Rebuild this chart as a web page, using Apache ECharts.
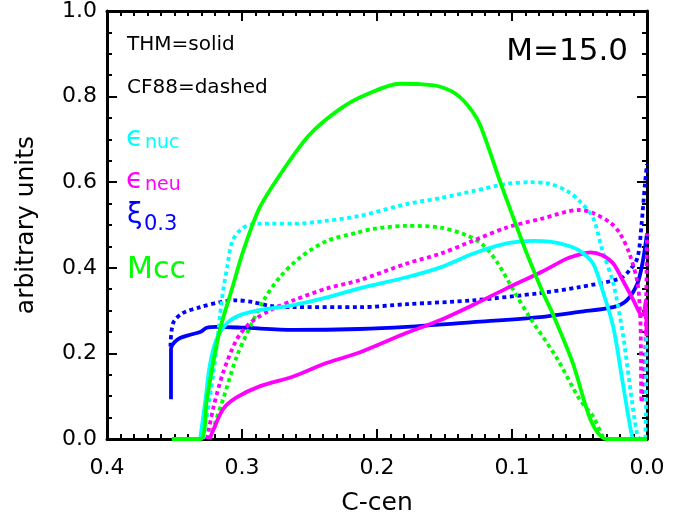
<!DOCTYPE html>
<html>
<head>
<meta charset="utf-8">
<script src="https://cdn.jsdelivr.net/npm/echarts@6/dist/echarts.min.js"></script>
<style>
html,body{margin:0;padding:0;background:#fff;}
#chart{width:694px;height:521px;}
</style>
</head>
<body>
<div id="chart"></div>
<script>
// ---------- data (x = C-cen, y = arbitrary units) ----------
const xTickValues = [0.4, 0.3, 0.2, 0.1, 0.0];
const yTickValues = [0.0, 0.2, 0.4, 0.6, 0.8, 1.0];

// Mcc, THM (solid green)
const mccThmX = [0.352,0.331,0.326,0.321,0.316,0.307,0.299,0.287,0.270,0.250,0.227,0.207,0.183,0.168,0.153,0.139,0.126,0.119,0.109,0.099,0.089,0.077,0.070,0.055,0.041,0.030,0.0];
const mccThmY = [0.0,0.0,0.093,0.185,0.260,0.355,0.440,0.540,0.626,0.711,0.772,0.806,0.830,0.829,0.823,0.800,0.749,0.695,0.603,0.517,0.433,0.341,0.294,0.178,0.039,0.0,0.0];

// Mcc, CF88 (dotted green)
const mccCfX = [0.324,0.314,0.304,0.294,0.284,0.272,0.257,0.237,0.215,0.203,0.178,0.153,0.133,0.121,0.111,0.099,0.087,0.067,0.050,0.040,0.033,0.031];
const mccCfY = [0.0,0.093,0.192,0.262,0.324,0.378,0.424,0.463,0.482,0.491,0.498,0.494,0.475,0.452,0.413,0.348,0.285,0.190,0.093,0.053,0.007,0.0];

// eps_nuc, THM (solid cyan)
const nucThmX = [0.331,0.327,0.324,0.319,0.311,0.301,0.287,0.262,0.237,0.213,0.178,0.153,0.129,0.104,0.084,0.072,0.059,0.050,0.040,0.033,0.025,0.018,0.011,0.009];
const nucThmY = [0.0,0.093,0.169,0.232,0.271,0.290,0.301,0.313,0.331,0.352,0.378,0.401,0.433,0.457,0.463,0.461,0.452,0.440,0.410,0.348,0.262,0.132,0.005,0.0];

// eps_nuc, CF88 (dotted cyan)
const nucCfX = [0.329,0.324,0.319,0.315,0.311,0.307,0.299,0.287,0.262,0.237,0.213,0.178,0.153,0.129,0.104,0.087,0.072,0.059,0.050,0.040,0.033,0.025,0.018,0.013,0.007,0.004,0.0015,0.0005];
const nucCfY = [0.0,0.093,0.209,0.324,0.401,0.463,0.494,0.503,0.503,0.510,0.521,0.549,0.563,0.579,0.596,0.600,0.596,0.579,0.556,0.517,0.440,0.364,0.248,0.132,0.007,0.0,0.0,0.24];

// eps_neu, THM (solid magenta)
const neuThmX = [0.324,0.321,0.314,0.304,0.287,0.262,0.237,0.213,0.178,0.153,0.129,0.104,0.079,0.059,0.050,0.042,0.033,0.025,0.018,0.010,0.005,0.003,0.0008,0.0004];
const neuThmY = [0.0,0.023,0.070,0.097,0.123,0.146,0.178,0.202,0.248,0.278,0.313,0.352,0.389,0.422,0.431,0.436,0.429,0.410,0.371,0.324,0.292,0.290,0.325,0.240];

// eps_neu, CF88 (dotted magenta)
const neuCfX = [0.326,0.321,0.314,0.304,0.294,0.279,0.262,0.237,0.213,0.178,0.153,0.129,0.104,0.079,0.050,0.040,0.027,0.020,0.013,0.007,0.005,0.0045,0.004,0.0015,0.0005,0.0];
const neuCfY = [0.0,0.076,0.155,0.232,0.271,0.301,0.324,0.352,0.371,0.410,0.433,0.463,0.494,0.514,0.535,0.528,0.505,0.480,0.433,0.364,0.285,0.209,0.085,0.19,0.35,0.48];

// xi_0.3, THM (solid blue)
const xiThmX = [0.3526,0.3526,0.348,0.339,0.331,0.326,0.319,0.299,0.262,0.213,0.178,0.129,0.079,0.050,0.025,0.015,0.007,0.003,0.0];
const xiThmY = [0.093,0.209,0.232,0.243,0.250,0.260,0.262,0.260,0.255,0.257,0.262,0.273,0.285,0.297,0.308,0.324,0.364,0.417,0.480];

// xi_0.3, CF88 (dotted blue)
const xiCfX = [0.353,0.351,0.344,0.331,0.316,0.304,0.292,0.279,0.262,0.213,0.178,0.129,0.079,0.050,0.020,0.013,0.007,0.004,0.0015,0.0];
const xiCfY = [0.216,0.271,0.294,0.308,0.320,0.324,0.320,0.311,0.308,0.308,0.315,0.324,0.341,0.355,0.375,0.394,0.424,0.503,0.596,0.642];

// ---------- chart ----------
const zip = (xs, ys) => xs.map((x, i) => [x, ys[i]]);
const FONT = "'DejaVu Sans', sans-serif";
const GREEN = '#00ff00', CYAN = '#00ffff', MAGENTA = '#ff00ff', BLUE = '#0000ff';
const LW = 3.8;
const DOT = [4, 3.5];

function mkSeries(name, xs, ys, color, dotted) {
  return {
    name: name, type: 'line', data: zip(xs, ys),
    showSymbol: false, symbol: 'none', smooth: 0.3,
    xAxisIndex: 0, yAxisIndex: 0,
    lineStyle: { color: color, width: LW, type: dotted ? DOT : 'solid', cap: 'butt', join: 'round' }
  };
}

function ax(isX, pos, onZero, showLabel) {
  const a = {
    type: 'value', position: pos, min: 0, max: isX ? 0.4 : 1, interval: isX ? 0.1 : 0.2, inverse: isX,
    axisLine: { show: true, lineStyle: { color: '#000000', width: 3 } },
    axisTick: { show: true, inside: true, length: 10, lineStyle: { color: '#000000', width: 2 } },
    minorTick: { show: true, splitNumber: isX ? 10 : 4, length: 5, lineStyle: { color: '#000000', width: 2 } },
    splitLine: { show: false },
    axisLabel: { show: showLabel }
  };
  if (onZero !== null) a.axisLine.onZero = onZero;
  if (showLabel) {
    a.axisLabel = { show: true, margin: isX ? 18 : 10, fontFamily: FONT, fontSize: 22, color: '#000',
      formatter: v => v.toFixed(1) };
  }
  return a;
}

const xBottom = ax(true, 'bottom', null, true);
xBottom.name = 'C-cen'; xBottom.nameLocation = 'middle'; xBottom.nameGap = 52;
xBottom.nameTextStyle = { fontFamily: FONT, fontSize: 25, color: '#000' };
const xTop = ax(true, 'top', false, false);
const yLeft = ax(false, 'left', false, true);
yLeft.name = 'arbitrary units'; yLeft.nameLocation = 'middle'; yLeft.nameGap = 68;
yLeft.nameTextStyle = { fontFamily: FONT, fontSize: 25, color: '#000' };
const yRight = ax(false, 'right', null, false);

const chart = echarts.init(document.getElementById('chart'));
chart.setOption({
  animation: false,
  grid: { left: 107, right: 47, top: 7, bottom: 81 },
  xAxis: [xBottom, xTop],
  yAxis: [yLeft, yRight],
  series: [
    mkSeries('xi CF88', xiCfX, xiCfY, BLUE, true),
    mkSeries('xi THM', xiThmX, xiThmY, BLUE, false),
    mkSeries('Mcc CF88', mccCfX, mccCfY, GREEN, true),
    mkSeries('neu CF88', neuCfX, neuCfY, MAGENTA, true),
    mkSeries('nuc CF88', nucCfX, nucCfY, CYAN, true),
    mkSeries('neu THM', neuThmX, neuThmY, MAGENTA, false),
    mkSeries('nuc THM', nucThmX, nucThmY, CYAN, false),
    mkSeries('Mcc THM', mccThmX, mccThmY, GREEN, false)
  ],
  graphic: [
    { type: 'text', left: 127, top: 35, style: { text: 'THM=solid', fontFamily: FONT, fontSize: 20, fill: '#000' } },
    { type: 'text', left: 127, top: 78, style: { text: 'CF88=dashed', fontFamily: FONT, fontSize: 20, fill: '#000' } },
    { type: 'text', left: 126, top: 125, style: { text: 'ϵ', fontFamily: FONT, fontSize: 28, fill: CYAN } },
    { type: 'text', left: 145, top: 134, style: { text: 'nuc', fontFamily: FONT, fontSize: 19, fill: CYAN } },
    { type: 'text', left: 126, top: 167, style: { text: 'ϵ', fontFamily: FONT, fontSize: 28, fill: MAGENTA } },
    { type: 'text', left: 145, top: 176, style: { text: 'neu', fontFamily: FONT, fontSize: 19, fill: MAGENTA } },
    { type: 'text', left: 127, top: 202, style: { text: 'ξ', fontFamily: FONT, fontSize: 28, fill: BLUE } },
    { type: 'text', left: 144, top: 214, style: { text: '0.3', fontFamily: FONT, fontSize: 21, fill: BLUE } },
    { type: 'text', left: 127, top: 255, style: { text: 'Mcc', fontFamily: FONT, fontSize: 30, fill: GREEN } },
    { type: 'text', right: 66, top: 36, style: { text: 'M=15.0', fontFamily: FONT, fontSize: 31, fill: '#000' } }
  ]
});
</script>
</body>
</html>
